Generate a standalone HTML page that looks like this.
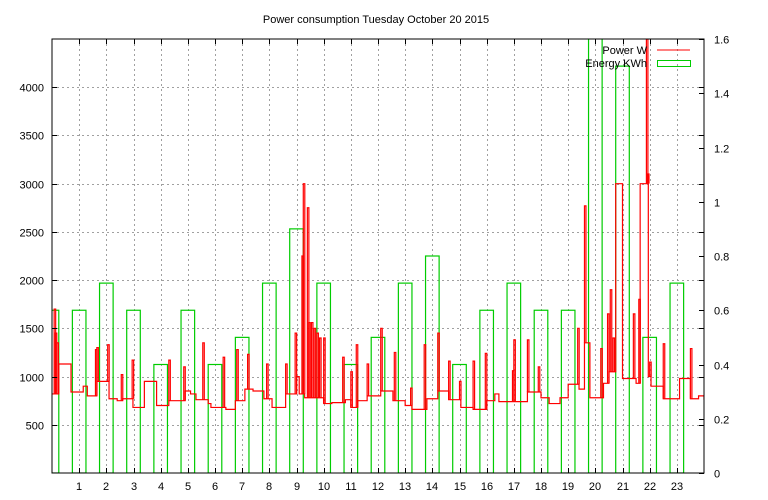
<!DOCTYPE html>
<html><head><meta charset="utf-8"><style>
body{margin:0;background:#fff;}
svg{display:block;font-family:"Liberation Sans","DejaVu Sans",sans-serif;}
</style></head><body>
<svg id="chart" width="768" height="500">
<text x="376" y="23" font-size="11" text-anchor="middle">Power consumption Tuesday October 20 2015</text>
<defs><clipPath id="pc"><rect x="52" y="39" width="652" height="434"/></clipPath></defs>
<g id="grid"></g>
<g id="bars" clip-path="url(#pc)"></g>
<g id="power" clip-path="url(#pc)"></g>
<rect x="52" y="39" width="652" height="434" fill="none" stroke="#000" stroke-width="1"/>
<g id="axes"></g>
<g>
<text x="647" y="54" font-size="11" text-anchor="end">Power W</text>
<line x1="657" y1="50" x2="690" y2="50" stroke="#f00" stroke-width="1"/>
<text x="647" y="67" font-size="11" text-anchor="end">Energy KWh</text>
<rect x="657.5" y="60.5" width="33" height="6" fill="none" stroke="#0c0" stroke-width="1"/>
</g>
</svg>
<script>
const hours=[0,1,2,3,4,5,6,7,8,9,10,11,12,13,14,15,16,17,18,19,20,21,22,23];
const energy=[0.6,0.6,0.7,0.6,0.4,0.6,0.4,0.5,0.7,0.9,0.7,0.4,0.5,0.7,0.8,0.4,0.6,0.7,0.6,0.6,1.7,1.5,0.5,0.7];
const leftTicks=[500,1000,1500,2000,2500,3000,3500,4000];
const rightTicks=["0","0.2","0.4","0.6","0.8","1","1.2","1.4","1.6"];
const xTicks=[1,2,3,4,5,6,7,8,9,10,11,12,13,14,15,16,17,18,19,20,21,22,23];
// base steps: [start hour, watts]
const powerBase=[[0,820],[0.25,1130],[0.7,840],[1.15,900],[1.3,800],[1.65,950],[2.1,770],[2.4,750],[2.6,770],[2.98,680],[3.4,950],[3.85,700],[4.3,750],[4.9,850],[5.1,820],[5.3,760],[5.75,720],[5.85,680],[6.4,660],[6.75,750],[7.1,870],[7.4,850],[7.8,770],[8.1,680],[8.6,820],[9.0,1000],[9.1,820],[9.3,780],[10.0,720],[10.3,730],[10.8,760],[11.0,680],[11.25,750],[11.6,800],[12.1,850],[12.55,750],[13.0,700],[13.25,660],[13.8,770],[14.2,850],[14.6,760],[15.05,680],[15.5,660],[16.0,750],[16.3,820],[16.45,740],[17.1,740],[17.5,840],[18.0,780],[18.3,720],[18.7,780],[19.0,920],[19.4,870],[19.6,1350],[19.8,780],[20.3,930],[20.5,1050],[20.75,3000],[21.0,980],[21.5,930],[21.65,3000],[21.95,1000],[22.05,900],[22.5,770],[23.1,980],[23.5,770],[23.8,800],[24,760]];
// spikes: [hour, peak watts]
const powerSpikes=[[0.08,1700],[0.12,1450],[0.18,1350],[1.6,1280],[1.65,1300],[2.05,1330],[2.55,1020],[2.95,1170],[4.3,1170],[4.85,1100],[5.55,1350],[6.3,1200],[6.8,1280],[7.2,1230],[7.9,1130],[8.6,1130],[8.95,1450],[9.2,2250],[9.25,3000],[9.4,2750],[9.45,1560],[9.55,1560],[9.65,1500],[9.75,1450],[9.85,1400],[10.0,1400],[10.7,1200],[11.0,1050],[11.2,1330],[11.6,1130],[12.1,1500],[12.6,1250],[13.2,880],[13.7,1330],[14.2,1450],[14.6,1160],[15.0,950],[15.5,1160],[15.95,1240],[16.95,1060],[17.0,1380],[17.5,1380],[17.9,1100],[19.35,1500],[19.6,2770],[20.2,1290],[20.45,1650],[20.55,1900],[20.65,1400],[21.4,1650],[21.6,1800],[21.88,4500],[21.92,3100],[22.0,1150],[22.5,1340],[23.5,1290]];
const NS="http://www.w3.org/2000/svg";
const X0=52,X1=704,Y0=473,Y1=39;
const xs=h=>X0+h*(X1-X0)/24;
const yL=w=>Y0-w*(Y0-Y1)/4500;
const yR=e=>Y0-e*(Y0-Y1)/1.6;
function mk(tag,attrs,parent){const e=document.createElementNS(NS,tag);for(const k in attrs)e.setAttribute(k,attrs[k]);parent.appendChild(e);return e;}
const grid=document.getElementById('grid'),axes=document.getElementById('axes');
xTicks.forEach(h=>{
  const x=Math.round(xs(h))+0.5;
  const g=mk('line',{x1:x,y1:Y1,x2:x,y2:Y0,stroke:'#a0a0a0','stroke-dasharray':'2,3'},grid);
  
  
  mk('line',{x1:x,y1:Y0,x2:x,y2:Y0-5,stroke:'#000'},axes);
  mk('line',{x1:x,y1:Y1,x2:x,y2:Y1+5,stroke:'#000'},axes);
  const t=mk('text',{x:x-0.5,y:490,'font-size':11,'text-anchor':'middle'},axes);
  t.textContent=h;
  
  
});
leftTicks.forEach(w=>{
  const y=Math.round(yL(w))+0.5;
  const g=mk('line',{x1:X0,y1:y,x2:X1,y2:y,stroke:'#a0a0a0','stroke-dasharray':'2,3'},grid);
  
  
  mk('line',{x1:X0,y1:y,x2:X0+5,y2:y,stroke:'#000'},axes);
  mk('line',{x1:X1,y1:y,x2:X1-5,y2:y,stroke:'#000'},axes);
  const t=mk('text',{x:44,y:y+4,'font-size':11,'text-anchor':'end'},axes);
  t.textContent=w;
  
  
});
rightTicks.forEach(s=>{
  const y=Math.round(yR(parseFloat(s)))+0.5;
  mk('line',{x1:X1,y1:y,x2:X1-5,y2:y,stroke:'#000'},axes);
  const t=mk('text',{x:714,y:y+4,'font-size':11,'text-anchor':'start'},axes);
  t.textContent=s;
  
  
});
const bars=document.getElementById('bars');
hours.forEach((h,i)=>{
  const x1=xs(h-0.25),x2=xs(h+0.25),y=yR(energy[i]);
  const r=mk('rect',{x:x1,y:y,width:x2-x1,height:Y0-y,fill:'none',stroke:'#0c0','stroke-width':1.2},bars);
  
  
});
let d='M'+xs(powerBase[0][0])+' '+yL(powerBase[0][1]);
for(let i=1;i<powerBase.length;i++){d+=' H'+xs(powerBase[i][0])+' V'+yL(powerBase[i][1]);}
const p=mk('path',{d:d,fill:'none',stroke:'#f00','stroke-width':1.2},document.getElementById('power'));


function baseAt(h){let w=powerBase[0][1];for(const s of powerBase){if(s[0]<=h)w=s[1];}return w;}
powerSpikes.forEach(s=>{
  const x=xs(s[0]);
  const b=baseAt(s[0]);
  const sp=mk('path',{d:'M'+x+' '+yL(b)+' V'+yL(s[1])+' H'+(x+1.5)+' V'+yL(b),fill:'none',stroke:'#f00','stroke-width':1.2},document.getElementById('power'));
  
  
});
</script>
</body></html>
